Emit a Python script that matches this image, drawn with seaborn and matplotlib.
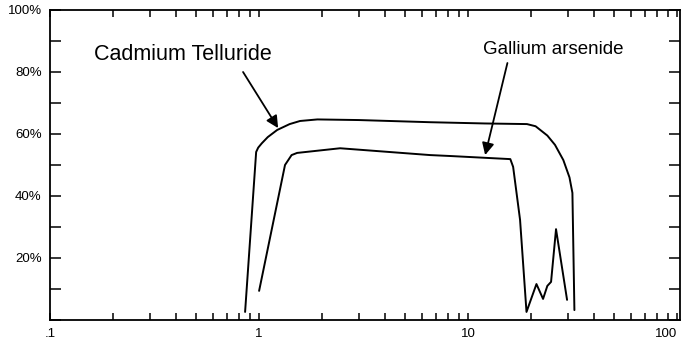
import numpy as np
import pandas as pd
import seaborn as sns
import matplotlib
matplotlib.use("Agg")
import matplotlib.pyplot as plt
import matplotlib.ticker as mtick

# values (x = log scale, y = percent)
cdte_x = [0.857, 0.968, 0.99, 1.03, 1.1, 1.22, 1.4, 1.57, 1.9, 3.0, 6.6,
          12.0, 19.1, 21.0, 23.9, 26.0, 28.5, 30.5, 31.5, 32.2]
cdte_y = [2.6, 54.2, 55.6, 57.0, 59.0, 61.3, 63.2, 64.2, 64.7, 64.5, 63.8,
          63.4, 63.2, 62.5, 59.5, 56.5, 51.6, 46.0, 41.0, 3.2]

gaas_x = [1.0, 1.33, 1.43, 1.52, 2.44, 6.58, 8.2, 15.9, 16.4, 17.7,
          19.0, 21.2, 22.8, 23.9, 24.9, 26.3, 29.7]
gaas_y = [9.4, 50.0, 53.2, 53.9, 55.4, 53.2, 52.9, 51.9, 49.4, 32.3,
          2.6, 11.6, 6.8, 11.0, 12.3, 29.3, 6.5]

y_ticks = [20, 40, 60, 80, 100]
y_labels = ["20%", "40%", "60%", "80%", "100%"]
x_ticks = [0.1, 1, 10, 100]
x_labels = [".1", "1", "10", "100"]

sns.set_style("ticks")
plt.rcParams["font.family"] = ["Liberation Sans", "DejaVu Sans"]
plt.rcParams["text.color"] = "black"


def main():
    df = pd.concat([
        pd.DataFrame({"x": cdte_x, "y": cdte_y, "material": "Cadmium Telluride"}),
        pd.DataFrame({"x": gaas_x, "y": gaas_y, "material": "Gallium arsenide"}),
    ])

    fig = plt.figure(figsize=(6.81, 3.42), dpi=100)
    ax = fig.add_axes([50 / 681, 22 / 342, 630 / 681, 310 / 342])

    sns.lineplot(data=df, x="x", y="y", units="material", estimator=None,
                 sort=False, color="black", linewidth=1.4, legend=False, ax=ax)

    ax.set_xscale("log")
    ax.set_xlim(0.1, 103)
    ax.set_ylim(0, 100)
    ax.set_xlabel("")
    ax.set_ylabel("")

    ax.set_xticks(x_ticks)
    ax.set_xticklabels(x_labels)
    ax.get_xticklabels()[-1].set_horizontalalignment("right")
    ax.xaxis.set_minor_locator(mtick.LogLocator(base=10, subs=np.arange(2, 10)))
    ax.xaxis.set_minor_formatter(mtick.NullFormatter())
    ax.set_yticks(y_ticks)
    ax.set_yticklabels(y_labels)
    ax.yaxis.set_minor_locator(mtick.MultipleLocator(10))

    ax.tick_params(axis="both", which="both", direction="in", width=1.1,
                   labelsize=9.5, colors="black")
    ax.tick_params(axis="x", which="both", length=5, top=True, pad=6)
    ax.tick_params(axis="y", which="both", length=8, right=True, pad=6)

    for sp in ax.spines.values():
        sp.set_linewidth(1.3)
        sp.set_color("black")
        sp.set_visible(True)

    arrow = dict(arrowstyle="-|>", color="black", lw=1.3,
                 mutation_scale=18, shrinkA=0, shrinkB=0)
    ax.text(0.432, 85.5, "Cadmium Telluride", ha="center", va="center",
            fontsize=15.5)
    ax.annotate("", xy=(1.233, 61.9), xytext=(0.838, 80.0), arrowprops=arrow)
    ax.text(25.5, 87.1, "Gallium arsenide", ha="center", va="center",
            fontsize=13.5)
    ax.annotate("", xy=(12.05, 53.2), xytext=(15.4, 82.9), arrowprops=arrow)

    fig.savefig("out.png", dpi=100)


if __name__ == "__main__":
    main()
